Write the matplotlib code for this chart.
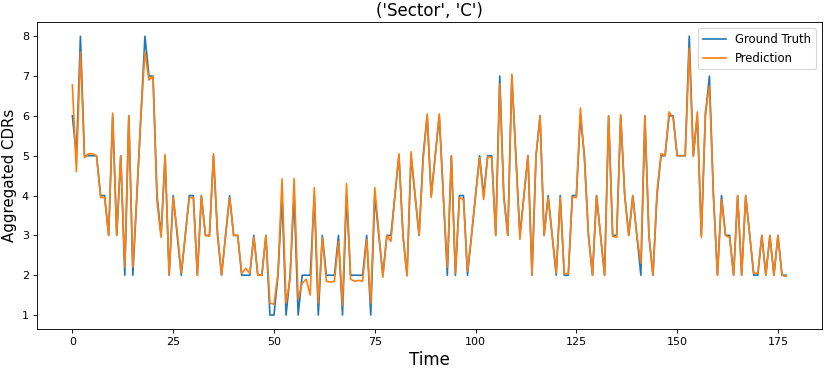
import numpy as np
import matplotlib.pyplot as plt

#Valori (Sector C)
ground_truth = [6, 5, 8, 5, 5, 5, 5, 4, 4, 3,
                6, 3, 5, 2, 6, 2, 4, 6, 8, 7,
                7, 4, 3, 5, 2, 4, 3, 2, 3, 4,
                4, 2, 4, 3, 3, 5, 3, 2, 3, 4,
                3, 3, 2, 2, 2, 3, 2, 2, 3, 1,
                1, 2, 4, 1, 2, 4, 1, 2, 2, 2,
                4, 1, 3, 2, 2, 2, 3, 1, 4, 2,
                2, 2, 2, 3, 1, 4, 3, 2, 3, 3,
                4, 5, 3, 2, 5, 4, 3, 5, 6, 4,
                5, 6, 4, 2, 5, 2, 4, 4, 2, 3,
                4, 5, 4, 5, 5, 3, 7, 4, 3, 7,
                5, 3, 4, 5, 2, 5, 6, 3, 4, 3,
                2, 4, 2, 2, 4, 4, 6, 5, 3, 2,
                4, 3, 2, 6, 3, 3, 6, 4, 3, 4,
                3, 2, 6, 3, 2, 4, 5, 5, 6, 6,
                5, 5, 5, 8, 5, 6, 3, 6, 7, 4,
                2, 4, 3, 3, 2, 4, 2, 4, 3, 2,
                2, 3, 2, 3, 2, 3, 2, 2]
prediction = [6.78, 4.6, 7.6, 4.95, 5.05, 5.05, 5.0, 3.95, 3.95, 3.0,
              6.07, 3.0, 5.0, 2.2, 6.0, 2.2, 4.0, 6.0, 7.6, 6.9,
              7.0, 3.85, 2.95, 5.03, 2.0, 3.95, 3.1, 2.05, 3.0, 3.95,
              3.95, 2.0, 4.0, 3.0, 2.98, 5.05, 3.1, 2.0, 3.0, 3.95,
              3.0, 3.0, 2.05, 2.17, 2.05, 2.95, 2.0, 2.0, 3.0, 1.3,
              1.27, 2.05, 4.42, 1.3, 1.9, 4.43, 1.4, 1.8, 1.9, 1.5,
              4.2, 1.3, 2.95, 1.85, 1.83, 1.85, 2.85, 1.25, 4.3, 1.9,
              1.85, 1.87, 1.85, 2.9, 1.3, 4.2, 3.1, 1.95, 3.0, 2.85,
              4.0, 5.05, 3.0, 1.98, 5.1, 4.0, 3.0, 4.9, 6.05, 3.95,
              5.0, 6.05, 4.0, 2.2, 5.0, 2.05, 3.95, 3.9, 2.1, 3.0,
              4.0, 4.95, 3.9, 4.98, 4.95, 3.0, 6.8, 3.95, 3.0, 7.05,
              5.0, 2.9, 4.0, 5.0, 2.0, 5.0, 6.0, 3.0, 3.95, 3.0,
              2.05, 3.95, 2.05, 2.03, 3.96, 3.95, 6.2, 4.9, 3.0, 2.0,
              4.0, 3.0, 2.0, 6.0, 2.98, 2.95, 6.03, 4.0, 3.0, 4.0,
              3.0, 2.3, 6.0, 3.0, 2.0, 4.1, 5.05, 5.0, 6.1, 5.95,
              5.0, 5.0, 5.0, 7.7, 4.98, 6.1, 2.95, 6.1, 6.75, 4.0,
              2.0, 3.9, 3.0, 2.95, 2.0, 4.0, 2.0, 4.0, 3.0, 2.05,
              2.05, 3.0, 2.0, 3.0, 2.0, 3.0, 2.0, 1.97]
time = np.arange(len(ground_truth))

#Grafico (dpi 80 -> 830x369)
fig, ax = plt.subplots(figsize=(830/80, 369/80), dpi=80)
fig.subplots_adjust(left=0.0442, right=0.990, top=0.9396, bottom=0.1084)
ax.plot(time, ground_truth, color='tab:blue', label='Ground Truth')
ax.plot(time, prediction, color='tab:orange', label='Prediction')
ax.set_title("('Sector', 'C')", fontsize=15)
ax.set_xlabel('Time', fontsize=15)
ax.set_ylabel('Aggregated CDRs', fontsize=13.5)
ax.legend(loc='upper right', fontsize=10.5)
plt.savefig('out.png', dpi=80)
